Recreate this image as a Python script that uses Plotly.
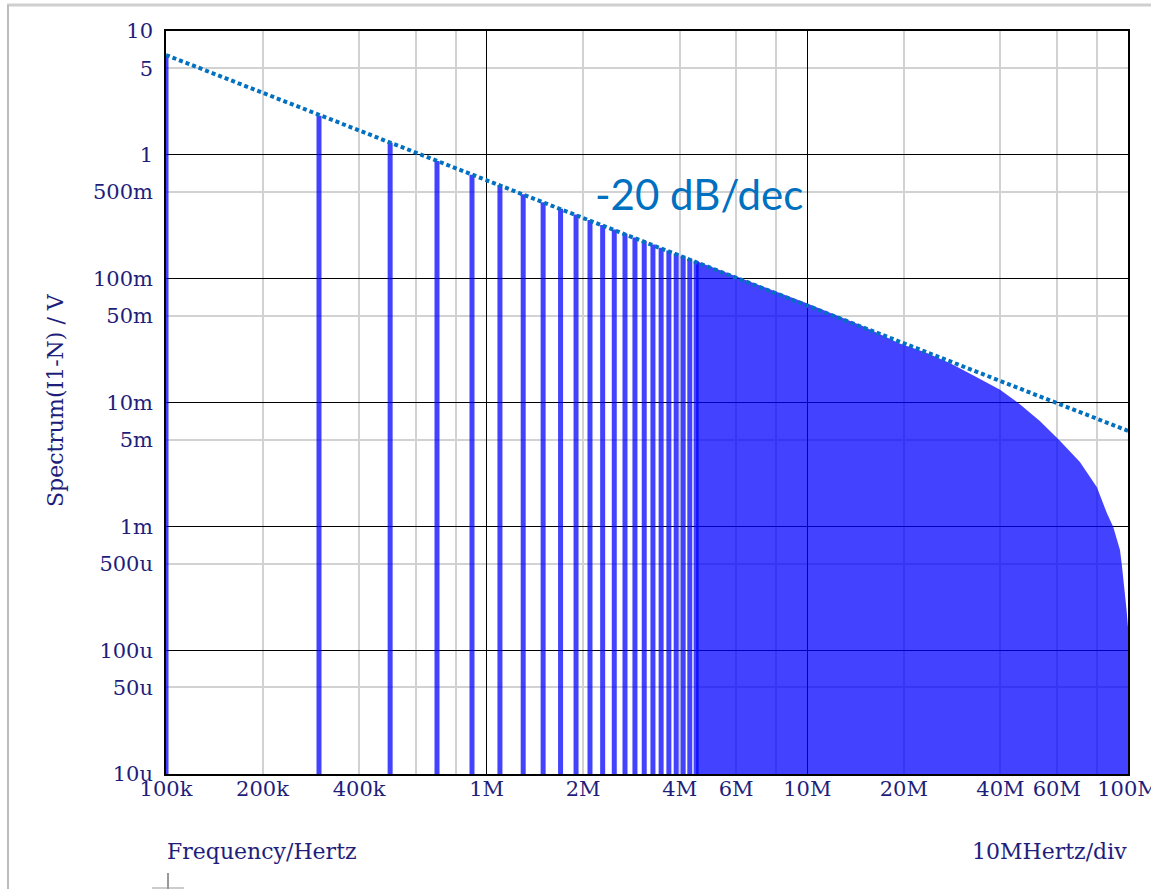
import plotly.graph_objects as go

# ---------------- data ----------------
# discrete odd harmonics that are drawn as separate bars (Hz, V)
HARMONIC_FREQ_HZ = [100e3, 300e3, 500e3, 700e3, 900e3, 1.1e6, 1.3e6, 1.5e6, 1.7e6,
                    1.9e6, 2.1e6, 2.3e6, 2.5e6, 2.7e6, 2.9e6, 3.1e6, 3.3e6, 3.5e6,
                    3.7e6, 3.9e6, 4.1e6, 4.3e6, 4.5e6]
HARMONIC_AMP_V = [6.2, 2.07, 1.25, 0.89, 0.69, 0.57, 0.48, 0.415, 0.367,
                  0.329, 0.297, 0.271, 0.25, 0.231, 0.215, 0.201, 0.189, 0.178,
                  0.169, 0.16, 0.152, 0.145, 0.139]

# upper envelope of the dense (merged) harmonic region (Hz, V)
ENVELOPE_FREQ_HZ = [4.5e6, 7.1e6, 10e6, 15e6, 19.4e6, 23.3e6, 27.9e6, 33.3e6, 39.9e6,
                    46.0e6, 53.1e6, 61.3e6, 70.8e6, 80.0e6, 82.9e6, 85.9e6, 89.9e6,
                    92.3e6, 94.4e6, 95.7e6, 97.1e6, 99.0e6, 100e6]
ENVELOPE_AMP_V = [0.139, 0.0887, 0.063, 0.041, 0.030, 0.0255, 0.0207, 0.0163, 0.0127,
                  0.0097, 0.0071, 0.0049, 0.0033, 0.00207, 0.00163, 0.00128, 0.00099,
                  0.0008, 0.000643, 0.000486, 0.000348, 0.00021, 0.000153]

# -20 dB/dec guide line end points
SLOPE_FREQ_HZ = [100e3, 100e6]
SLOPE_AMP_V = [6.4, 0.0059]

Y_FLOOR = 1e-5  # bottom of the y axis (10u)

# axis ticks
X_MAJOR_TICKS = [1e5, 1e6, 1e7, 1e8]
X_MINOR_TICKS = [2e5, 4e5, 6e5, 8e5, 2e6, 4e6, 6e6, 8e6, 2e7, 4e7, 6e7, 8e7]
X_LABEL_TICKS = [1e5, 2e5, 4e5, 1e6, 2e6, 4e6, 6e6, 1e7, 2e7, 4e7, 6e7, 1e8]
X_LABEL_TEXT = ["100k", "200k", "400k", "1M", "2M", "4M", "6M", "10M", "20M",
                "40M", "60M", "100M"]

Y_MAJOR_TICKS = [1e-5, 1e-4, 1e-3, 1e-2, 1e-1, 1, 10]
Y_MINOR_TICKS = [5e-5, 5e-4, 5e-3, 5e-2, 0.5, 5]
Y_LABEL_TICKS = [1e-5, 5e-5, 1e-4, 5e-4, 1e-3, 5e-3, 1e-2, 5e-2, 1e-1, 0.5, 1, 5, 10]
Y_LABEL_TEXT = ["10u", "50u", "100u", "500u", "1m", "5m", "10m", "50m", "100m",
                "500m", "1", "5", "10"]

# ---------------- styling ----------------
W, H = 1151, 889
ML, MR, MT, MB = 166, 23, 31, 115
PW, PH = W - ML - MR, H - MT - MB

NAVY = "#1e1e7a"
FILL = "rgba(0,0,255,0.74)"
GUIDE = "#0070C0"
TICKFONT = dict(family="DejaVu Serif", size=21, color=NAVY)
TITLEFONT = dict(family="DejaVu Serif", size=22, color=NAVY)


def px_x(px):
    return (px - ML) / PW


def px_y(py):
    return (H - MB - py) / PH


fig = go.Figure()

# dense merged region as a filled envelope
fig.add_trace(go.Scatter(
    x=ENVELOPE_FREQ_HZ + [ENVELOPE_FREQ_HZ[-1], ENVELOPE_FREQ_HZ[0]],
    y=ENVELOPE_AMP_V + [Y_FLOOR, Y_FLOOR],
    mode="lines", fill="toself", fillcolor=FILL,
    line=dict(width=0, color=FILL), hoverinfo="skip", showlegend=False))

# separate harmonic bars
bx, by = [], []
for f, a in zip(HARMONIC_FREQ_HZ, HARMONIC_AMP_V):
    bx += [f, f, None]
    by += [Y_FLOOR, a, None]
fig.add_trace(go.Scatter(x=bx, y=by, mode="lines",
                         line=dict(width=5, color=FILL),
                         hoverinfo="skip", showlegend=False))

# -20 dB/dec guide
fig.add_trace(go.Scatter(x=SLOPE_FREQ_HZ, y=SLOPE_AMP_V, mode="lines",
                         line=dict(width=4, color=GUIDE, dash="4px,3px"),
                         hoverinfo="skip", showlegend=False))

# dummy trace for the overlay axes carrying the tick labels
fig.add_trace(go.Scatter(x=[], y=[], xaxis="x2", yaxis="y2",
                         showlegend=False, hoverinfo="skip"))

common = dict(type="log", ticks="", zeroline=False, showline=True, automargin=False,
              linecolor="black", linewidth=2, mirror=True, showticklabels=False,
              gridcolor="#000000", gridwidth=1)

fig.update_layout(
    width=W, height=H, autosize=False,
    margin=dict(l=ML, r=MR, t=MT, b=MB, pad=0, autoexpand=False),
    paper_bgcolor="white", plot_bgcolor="white",
    showlegend=False,
    xaxis=dict(range=[5, 8], tickvals=X_MAJOR_TICKS,
               minor=dict(tickvals=X_MINOR_TICKS, showgrid=True,
                          gridcolor="#d2d2d2", gridwidth=2, ticks=""),
               **common),
    yaxis=dict(range=[-5, 1], tickvals=Y_MAJOR_TICKS,
               minor=dict(tickvals=Y_MINOR_TICKS, showgrid=True,
                          gridcolor="#d2d2d2", gridwidth=2, ticks=""),
               **common),
    xaxis2=dict(type="log", range=[5, 8], overlaying="x", anchor="y2", side="bottom",
                tickvals=X_LABEL_TICKS, ticktext=X_LABEL_TEXT, ticks="",
                ticklabelstandoff=0, ticklabeloverflow="allow", automargin=False,
                showgrid=False, zeroline=False, showline=False, tickfont=TICKFONT),
    yaxis2=dict(type="log", range=[-5, 1], overlaying="y", anchor="x2", side="left",
                tickvals=Y_LABEL_TICKS, ticktext=Y_LABEL_TEXT, ticks="",
                ticklabelstandoff=12, ticklabeloverflow="allow", automargin=False,
                showgrid=False, zeroline=False, showline=False, tickfont=TICKFONT),
)

fig.add_annotation(text="Spectrum(I1-N) / V", textangle=-90, showarrow=False,
                   xref="paper", yref="paper", x=px_x(55), y=px_y(400),
                   xanchor="center", yanchor="middle", font=TITLEFONT)
fig.add_annotation(text="Frequency/Hertz", showarrow=False,
                   xref="paper", yref="paper", x=px_x(165), y=px_y(851),
                   xanchor="left", yanchor="middle", font=TITLEFONT)
fig.add_annotation(text="10MHertz/div", showarrow=False,
                   xref="paper", yref="paper", x=px_x(1129), y=px_y(851),
                   xanchor="right", yanchor="middle", font=TITLEFONT)
fig.add_annotation(text="-20 dB/dec", showarrow=False,
                   xref="paper", yref="paper", x=px_x(593), y=px_y(194),
                   xanchor="left", yanchor="middle",
                   font=dict(family="Lato", size=42, color=GUIDE))

# outer window frame and cursor mark
frame = dict(type="line", xref="paper", yref="paper", layer="above")
fig.add_shape(x0=px_x(7), x1=px_x(1151), y0=px_y(5), y1=px_y(5),
              line=dict(color="#cfcfcf", width=3), **frame)
fig.add_shape(x0=px_x(8), x1=px_x(8), y0=px_y(5), y1=px_y(889),
              line=dict(color="#bdbdbd", width=2), **frame)
fig.add_shape(x0=px_x(168), x1=px_x(168), y0=px_y(873), y1=px_y(889),
              line=dict(color="#333333", width=1), **frame)
fig.add_shape(x0=px_x(152), x1=px_x(184), y0=px_y(888), y1=px_y(888),
              line=dict(color="#999999", width=1), **frame)

fig.write_html("out.html")
